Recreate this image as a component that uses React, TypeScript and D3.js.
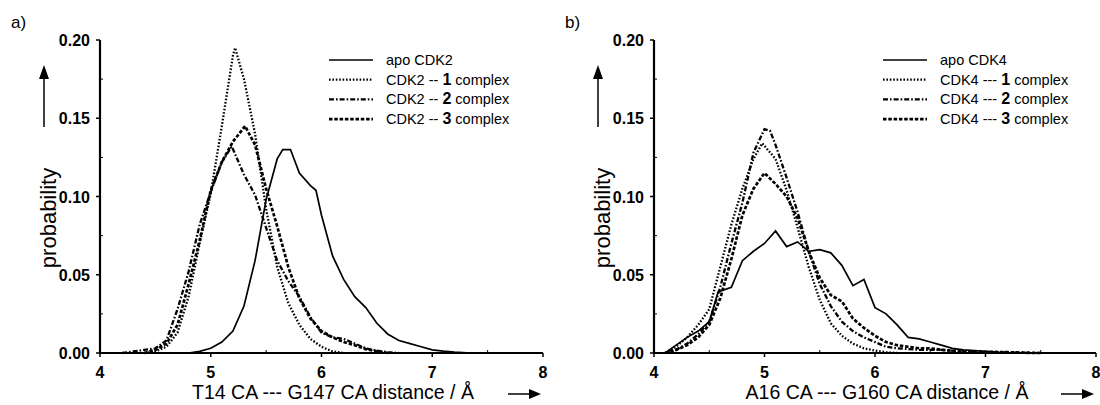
import React from 'react';
import * as d3 from 'd3';

// distance (Å), probability pairs
const apoCDK2 = [[4.8, 0], [4.9, 0.001], [5.0, 0.003], [5.1, 0.007], [5.2, 0.014], [5.3, 0.03], [5.4, 0.059], [5.5, 0.098], [5.6, 0.124], [5.65, 0.13], [5.72, 0.13], [5.8, 0.115], [5.9, 0.107], [5.95, 0.104], [6.0, 0.088], [6.1, 0.062], [6.2, 0.047], [6.3, 0.036], [6.4, 0.029], [6.5, 0.019], [6.6, 0.012], [6.7, 0.008], [6.8, 0.006], [6.9, 0.004], [7.0, 0.002], [7.1, 0.0012], [7.2, 0.0006], [7.35, 0]];
const cdk2Complex1 = [[4.4, 0], [4.5, 0.001], [4.6, 0.004], [4.7, 0.013], [4.8, 0.036], [4.9, 0.07], [5.0, 0.102], [5.1, 0.145], [5.2, 0.19], [5.22, 0.195], [5.3, 0.175], [5.4, 0.14], [5.5, 0.092], [5.6, 0.055], [5.7, 0.032], [5.8, 0.018], [5.9, 0.009], [6.0, 0.004], [6.1, 0.001], [6.2, 0]];
const cdk2Complex2 = [[4.2, 0], [4.3, 0.001], [4.4, 0.002], [4.5, 0.003], [4.6, 0.008], [4.7, 0.028], [4.8, 0.052], [4.9, 0.082], [5.0, 0.103], [5.1, 0.122], [5.19, 0.132], [5.3, 0.114], [5.4, 0.101], [5.5, 0.08], [5.6, 0.059], [5.7, 0.046], [5.8, 0.036], [5.9, 0.023], [6.0, 0.013], [6.1, 0.01], [6.2, 0.009], [6.3, 0.006], [6.4, 0.003], [6.5, 0.0015], [6.6, 0.0005], [6.7, 0]];
const cdk2Complex3 = [[4.4, 0], [4.5, 0.002], [4.6, 0.006], [4.7, 0.018], [4.8, 0.044], [4.9, 0.072], [5.0, 0.104], [5.1, 0.122], [5.2, 0.135], [5.31, 0.145], [5.4, 0.133], [5.5, 0.105], [5.6, 0.081], [5.7, 0.055], [5.8, 0.035], [5.9, 0.022], [6.0, 0.014], [6.1, 0.01], [6.2, 0.007], [6.3, 0.005], [6.4, 0.0025], [6.5, 0.001], [6.6, 0]];

const apoCDK4 = [[4.1, 0], [4.2, 0.005], [4.3, 0.01], [4.4, 0.014], [4.5, 0.02], [4.58, 0.039], [4.7, 0.042], [4.8, 0.059], [4.9, 0.065], [5.0, 0.07], [5.1, 0.078], [5.2, 0.068], [5.3, 0.071], [5.4, 0.065], [5.5, 0.066], [5.6, 0.064], [5.7, 0.056], [5.8, 0.043], [5.9, 0.047], [6.0, 0.029], [6.1, 0.025], [6.2, 0.018], [6.3, 0.01], [6.4, 0.009], [6.5, 0.007], [6.6, 0.005], [6.7, 0.003], [6.8, 0.002], [6.9, 0.0015], [7.0, 0.001], [7.1, 0.0005], [7.2, 0]];
const cdk4Complex1 = [[4.1, 0], [4.2, 0.004], [4.3, 0.01], [4.4, 0.018], [4.5, 0.028], [4.6, 0.055], [4.7, 0.082], [4.8, 0.105], [4.9, 0.124], [4.98, 0.134], [5.1, 0.124], [5.2, 0.104], [5.3, 0.08], [5.4, 0.055], [5.5, 0.034], [5.6, 0.019], [5.7, 0.011], [5.8, 0.006], [5.9, 0.003], [6.0, 0.0015], [6.1, 0.0005], [6.2, 0]];
const cdk4Complex2 = [[4.1, 0], [4.2, 0.002], [4.3, 0.006], [4.4, 0.012], [4.5, 0.02], [4.6, 0.042], [4.7, 0.07], [4.8, 0.096], [4.9, 0.128], [5.0, 0.143], [5.05, 0.142], [5.1, 0.133], [5.2, 0.112], [5.3, 0.09], [5.4, 0.065], [5.5, 0.044], [5.6, 0.03], [5.7, 0.02], [5.8, 0.014], [5.9, 0.01], [6.0, 0.007], [6.1, 0.004], [6.2, 0.003], [6.4, 0.002], [6.6, 0.002], [6.8, 0.001], [7.0, 0.0005], [7.2, 0.0005], [7.4, 0]];
const cdk4Complex3 = [[4.1, 0], [4.2, 0.002], [4.3, 0.005], [4.4, 0.01], [4.5, 0.018], [4.6, 0.035], [4.7, 0.06], [4.8, 0.088], [4.9, 0.105], [5.0, 0.115], [5.1, 0.108], [5.2, 0.1], [5.3, 0.086], [5.4, 0.065], [5.5, 0.048], [5.6, 0.037], [5.7, 0.033], [5.8, 0.022], [5.9, 0.016], [6.0, 0.011], [6.1, 0.007], [6.2, 0.005], [6.3, 0.004], [6.4, 0.003], [6.5, 0.003], [6.6, 0.002], [6.8, 0.001], [7.0, 0.0008], [7.2, 0.0005], [7.5, 0]];

const xTicks = [4, 5, 6, 7, 8];
const xMinorTicks = [4.5, 5.5, 6.5, 7.5];
const yTicks = [0, 0.05, 0.1, 0.15, 0.2];
const yMinorTicks = [0.025, 0.075, 0.125, 0.175];

const labelsA = ['apo CDK2', 'CDK2 -- ', 'CDK2 -- ', 'CDK2 -- '];
const labelsB = ['apo CDK4', 'CDK4 --- ', 'CDK4 --- ', 'CDK4 --- '];
const complexNumbers = ['', '1', '2', '3'];

const FONT = 'Liberation Sans, Arial, Helvetica, sans-serif';

// solid, dotted, dash-dot, dashed
const lineStyles = [
  { dash: null, width: 1.7 },
  { dash: '1.6,1.8', width: 2.3 },
  { dash: '5,2,1.6,2', width: 2.3 },
  { dash: '3.5,1.8', width: 2.7 },
];

const Panel = ({ x0, x1, tag, series, labels, xLabel }) => {
  const x = d3.scaleLinear().domain([4, 8]).range([x0, x1]);
  const y = d3.scaleLinear().domain([0, 0.2]).range([353, 40]);
  const line = d3.line().x(d => x(d[0])).y(d => y(d[1]));
  const lx = x0 + 229;

  return (
    <g fontFamily={FONT}>
      <text x={x0 - 89} y={28} fontSize={17}>{tag}</text>

      {series.map((s, i) => (
        <path key={i} d={line(s)} fill="none" stroke="#000"
          strokeWidth={lineStyles[i].width}
          strokeDasharray={lineStyles[i].dash || undefined} />
      ))}

      {/* axes */}
      <line x1={x(4)} x2={x(8)} y1={y(0)} y2={y(0)} stroke="#000" strokeWidth={2.2} />
      <line x1={x(4)} x2={x(4)} y1={y(0) + 1} y2={y(0.2)} stroke="#000" strokeWidth={2.2} />
      {xTicks.map(t => (
        <g key={t}>
          <line x1={x(t)} x2={x(t)} y1={y(0)} y2={y(0) + 4} stroke="#000" strokeWidth={1.5} />
          <text x={x(t)} y={y(0) + 25} textAnchor="middle" fontSize={16} fontWeight="bold">{t}</text>
        </g>
      ))}
      {xMinorTicks.map(t => (
        <line key={t} x1={x(t)} x2={x(t)} y1={y(0)} y2={y(0) - 3} stroke="#000" strokeWidth={1} />
      ))}
      {yTicks.map(t => (
        <g key={t}>
          <line x1={x(4) - 4} x2={x(4)} y1={y(t)} y2={y(t)} stroke="#000" strokeWidth={1.5} />
          <text x={x(4) - 10} y={y(t) + 6} textAnchor="end" fontSize={16} fontWeight="bold">{d3.format('.2f')(t)}</text>
        </g>
      ))}
      {yMinorTicks.map(t => (
        <line key={t} x1={x(4)} x2={x(4) + 3} y1={y(t)} y2={y(t)} stroke="#000" strokeWidth={1} />
      ))}

      {/* y title with arrow */}
      <text transform={`translate(${x0 - 44},218) rotate(-90)`} textAnchor="middle" fontSize={22}>probability</text>
      <line x1={x0 - 56} x2={x0 - 56} y1={127} y2={76} stroke="#000" strokeWidth={1.5} />
      <path d={`M${x0 - 61},79 L${x0 - 56},65 L${x0 - 51},79 Z`} fill="#000" />

      {/* x title with arrow */}
      <text x={x0 + 233} y={399} textAnchor="middle" fontSize={19.5}>{xLabel}</text>
      <line x1={x1 - 35} x2={x1 - 12} y1={394} y2={394} stroke="#000" strokeWidth={1.5} />
      <path d={`M${x1 - 14},389 L${x1 - 2},394 L${x1 - 14},399 Z`} fill="#000" />

      {/* legend */}
      {labels.map((lab, i) => {
        const ly = 60 + i * 19.7;
        return (
          <g key={i}>
            <line x1={lx} x2={lx + 44} y1={ly} y2={ly} stroke="#000"
              strokeWidth={lineStyles[i].width}
              strokeDasharray={lineStyles[i].dash || undefined} />
            <text x={lx + 57} y={ly + 5} fontSize={14.5}>
              {lab}
              {complexNumbers[i] && <tspan fontWeight="bold" fontSize={16}>{complexNumbers[i]}</tspan>}
              {complexNumbers[i] && ' complex'}
            </text>
          </g>
        );
      })}
    </g>
  );
};

export default function App() {
  return (
    <div style={{ position: 'absolute', left: 0, top: 0 }}>
      <svg width={1100} height={405} style={{ display: 'block', background: '#fff' }}>
        <Panel x0={100} x1={543} tag="a)"
          series={[apoCDK2, cdk2Complex1, cdk2Complex2, cdk2Complex3]}
          labels={labelsA} xLabel="T14 CA --- G147 CA distance / Å" />
        <Panel x0={654} x1={1096} tag="b)"
          series={[apoCDK4, cdk4Complex1, cdk4Complex2, cdk4Complex3]}
          labels={labelsB} xLabel="A16 CA --- G160 CA distance / Å" />
      </svg>
    </div>
  );
}
